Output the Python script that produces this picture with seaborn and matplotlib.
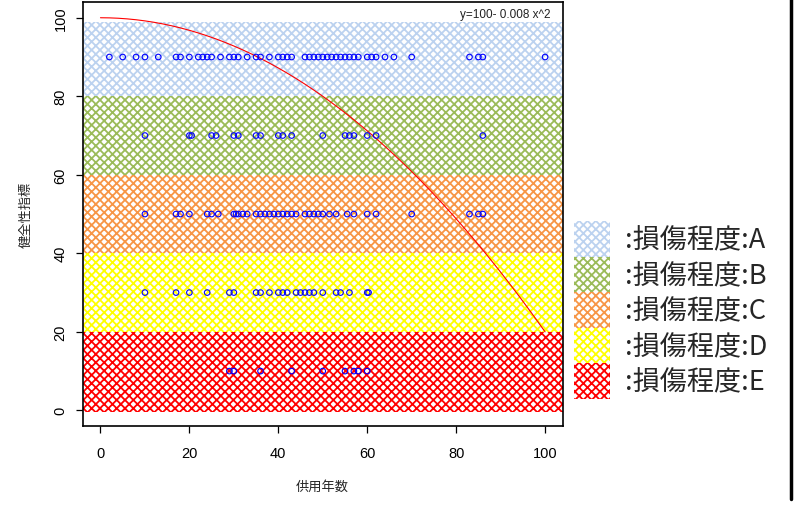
import numpy as np
import pandas as pd
import matplotlib
matplotlib.use('Agg')
import matplotlib.pyplot as plt
from matplotlib.patches import Patch
from matplotlib.lines import Line2D
import seaborn as sns

sns.set_theme(style='ticks')
plt.rcParams['font.family'] = ['Liberation Sans', 'Noto Sans CJK JP', 'DejaVu Sans']
plt.rcParams['hatch.linewidth'] = 1.3

# service years of the inspected members, one list per damage grade
years_a = [2, 5, 8, 10, 13, 17, 18, 20, 22, 23, 24, 25, 27, 29, 30, 31, 33, 35, 36,
           38, 40, 41, 42, 43, 46, 47, 48, 49, 50, 51, 52, 53, 54, 55, 56, 57, 58,
           60, 61, 62, 64, 66, 70, 83, 85, 86, 100]
years_b = [10, 20, 20.5, 25, 26, 30, 31, 35, 36, 40, 41, 43, 50, 55, 56, 57, 60, 62, 86]
years_c = [10, 17, 18, 20, 24, 25, 26.5, 30, 30.5, 31, 32, 33, 35, 36, 37, 38, 39, 40,
           41, 42, 43, 44, 46, 47, 48, 49, 50, 51.5, 53, 55.5, 57, 60, 62, 70, 83, 85, 86]
years_d = [10, 17, 20, 24, 29, 30, 35, 36, 38, 40, 41, 42, 44, 45, 46, 47, 48, 50,
           53, 54, 56, 60, 60.3]
years_e = [29, 30, 36, 43, 50, 55, 57, 58, 60]

# soundness index given to each grade
grade_names = ['A', 'B', 'C', 'D', 'E']
grade_scores = [90, 70, 50, 30, 10]
grade_low = [80, 60, 40, 20, -0.5]
grade_high = [99, 80, 60, 40, 20]
grade_colors = ['#bcd2ef', '#9bbb59', '#f79646', '#ffff00', '#ff0000']

# deterioration curve y = 100 - 0.008 x^2
curve_a = 100
curve_b = 0.008

rows = []
for g, s, yrs in zip(grade_names, grade_scores, [years_a, years_b, years_c, years_d, years_e]):
    for x in yrs:
        rows.append({'year': x, 'score': s, 'grade': g})
df = pd.DataFrame(rows)

cx = np.linspace(0, 100, 201)
curve = pd.DataFrame({'year': cx, 'score': curve_a - curve_b * cx ** 2})

fig = plt.figure(figsize=(7.95, 5.06), dpi=100)
ax = fig.add_axes([0.104, 0.156, 0.604, 0.838])

# hatched bands for each damage grade
for lo, hi, c in zip(grade_low, grade_high, grade_colors):
    ax.axhspan(lo, hi, facecolor='white', edgecolor=c, hatch='xxxx', linewidth=0, zorder=1)

sns.lineplot(data=curve, x='year', y='score', color='red', linewidth=0.8, ax=ax, zorder=2)
sns.scatterplot(data=df, x='year', y='score', color='blue', facecolor='none',
                edgecolor='blue', s=16, linewidth=0.8, ax=ax, zorder=3)

ax.set_xlim(-4, 104)
ax.set_ylim(-4, 104)
ax.set_xticks([0, 20, 40, 60, 80, 100])
ax.set_yticks([0, 20, 40, 60, 80, 100])
ax.set_xlabel('')
ax.set_ylabel('')
ax.tick_params(axis='both', length=5, width=0.9, labelsize=10.5, color='black', labelcolor='black')
ax.tick_params(axis='x', pad=9)
ax.tick_params(axis='y', pad=6)
for lab in ax.get_yticklabels():
    lab.set_rotation(90)
    lab.set_va('center')
for sp in ax.spines.values():
    sp.set_visible(True)
    sp.set_color('black')
    sp.set_linewidth(1.2)

ax.text(101.3, 101, 'y=100- 0.008 x^2', ha='right', va='center', fontsize=8.5, color='#222222')

fig.text(322.7 / 795, 1 - 487 / 506, '供用年数', ha='center', va='center', fontsize=9.5,
         family=['Noto Sans CJK JP', 'DejaVu Sans'])
fig.text(26 / 795, 1 - 215 / 506, '健全性指標', ha='center', va='center', fontsize=9.5,
         rotation=90, family=['Noto Sans CJK JP', 'DejaVu Sans'])

handles = [Patch(facecolor='white', edgecolor=c, hatch='xxxx', linewidth=0) for c in grade_colors]
labels = [':損傷程度:' + g for g in grade_names]
fig.legend(handles, labels, loc='upper left', bbox_to_anchor=(574 / 795, 1 - 222 / 506),
           frameon=False, prop={'family': ['Noto Sans CJK JP', 'DejaVu Sans'], 'size': 19.5},
           handlelength=1.33, handleheight=1.64, handletextpad=0.55, labelspacing=0,
           borderpad=0, borderaxespad=0)

fig.add_artist(Line2D([790.5 / 795, 790.5 / 795], [1 - 500 / 506, 1.0],
                      transform=fig.transFigure, color='black', linewidth=2.5))

fig.savefig('out.png', dpi=100)
